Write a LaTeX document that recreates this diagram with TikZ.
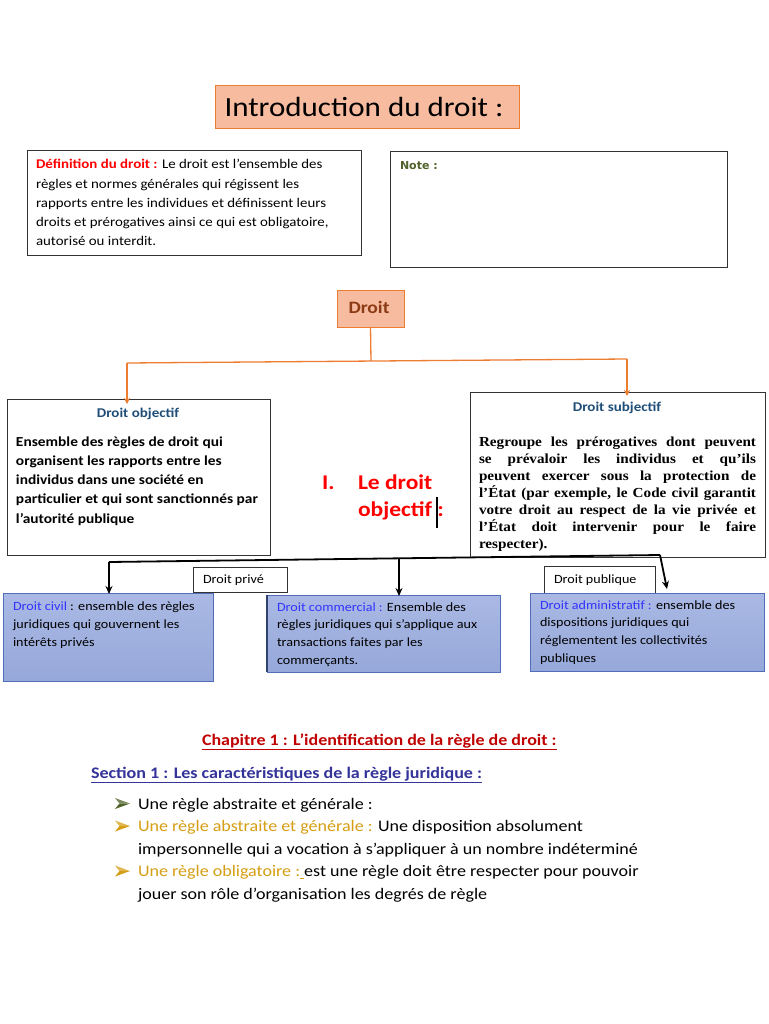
\documentclass[tikz,border=0pt]{standalone}
\usepackage{fontspec}
\setmainfont{Carlito}[FakeStretch=1.12]
\newfontfamily\tnr{Liberation Serif}[FakeStretch=1.1]
\newfontfamily\djv{DejaVu Sans}
\usetikzlibrary{arrows.meta}
\newcommand\nsp{\spaceskip=0pt\xspaceskip=0pt\relax}
\newcommand\bulletarrow[3]{%
  \fill[#3!75!white] (#1,#2-11) -- (#1+15,#2-5.5) -- (#1+4.5,#2-5.5) -- cycle;
  \fill[#3] (#1,#2) -- (#1+15,#2-5.5) -- (#1+4.5,#2-5.5) -- cycle;}
\definecolor{salmon}{RGB}{247,187,160}
\definecolor{orangeln}{RGB}{237,125,49}
\definecolor{brownt}{RGB}{140,60,20}
\definecolor{navyt}{RGB}{31,78,121}
\definecolor{redt}{RGB}{255,0,0}
\definecolor{greent}{RGB}{79,98,40}
\definecolor{bluefillA}{RGB}{170,185,228}
\definecolor{bluefillB}{RGB}{150,168,218}
\definecolor{blueborder}{RGB}{80,110,185}
\definecolor{bluet}{RGB}{51,51,255}
\definecolor{chapt}{RGB}{192,0,0}
\definecolor{sectt}{RGB}{51,51,153}
\definecolor{goldt}{RGB}{214,158,20}
\begin{document}
\begin{tikzpicture}[x=1pt,y=-1pt,
  every node/.style={inner sep=0pt,outer sep=0pt},
  salbox/.style={draw=orangeln,line width=1pt,fill=salmon},
  blkbox/.style={draw=black!80,line width=1pt,fill=white},
  bluebox/.style={draw=blueborder,line width=1pt,top color=bluefillA,bottom color=bluefillB},
  txt/.style={anchor=base west,align=left},
  oline/.style={draw=orangeln,line width=1.3pt},
  oarrow/.style={oline,-{Stealth[length=6pt,width=6pt]}},
  bline/.style={draw=black,line width=1.8pt},
  barrow/.style={bline,-{Stealth[length=8pt,width=7pt]}}
]
\useasboundingbox (0,0) rectangle (768,1024);
\fill[white] (0,0) rectangle (768,1024);

% title
\node[salbox,minimum width=304pt,minimum height=43pt] (title) at (367,107.5) {};
\node[anchor=base,font=\fontsize{27.7}{32}\selectfont] (titletxt) at (364,117) {Introduction du droit :};

% definition
\node[blkbox,minimum width=334pt,minimum height=104pt] (def) at (194,203) {};
\node[txt,text width=330pt,font=\fontsize{13.3}{19.2}\selectfont] (deftxt) at (36,169)
 {\nsp\textcolor{redt}{\bfseries Définition du droit :} Le droit est l’ensemble des\\
 règles et normes générales qui régissent les\\
 rapports entre les individues et définissent leurs\\
 droits et prérogatives ainsi ce qui est obligatoire,\\
 autorisé ou interdit.};

% note
\node[blkbox,minimum width=337pt,minimum height=115pt] (note) at (558.5,209.5) {};
\node[txt,font=\djv\fontsize{11}{14}\selectfont\bfseries,text=greent] (notetxt) at (400,170) {Note :};

% droit
\node[salbox,minimum width=67pt,minimum height=37pt] (droit) at (370.5,308.5) {};
\node[anchor=base,font=\fontsize{17.4}{20}\selectfont\bfseries,text=brownt] (droittxt) at (369,313) {Droit};

% objectif
\node[blkbox,minimum width=263pt,minimum height=156pt] (obj) at (138.5,477) {};
\node[anchor=base,font=\fontsize{13.4}{16}\selectfont\bfseries,text=navyt] (objt) at (138,417) {Droit objectif};
\node[txt,text width=260pt,font=\fontsize{13.75}{19.3}\selectfont\bfseries] (objtxt) at (16,446)
 {\nsp Ensemble des règles de droit qui\\
 organisent les rapports entre les\\
 individus dans une société en\\
 particulier et qui sont sanctionnés par\\
 l’autorité publique};

% subjectif
\node[blkbox,minimum width=295pt,minimum height=165pt] (subj) at (617.5,474.5) {};
\node[anchor=base,font=\fontsize{13.4}{16}\selectfont\bfseries,text=navyt] (subjt) at (617,411) {Droit subjectif};
\node[txt,text width=277pt,font=\tnr\fontsize{13.8}{17}\selectfont\bfseries] (subjtxt) at (479,446)
 {\nsp\makebox[277pt][s]{Regroupe les prérogatives dont peuvent}\\
 \makebox[277pt][s]{se prévaloir les individus et qu’ils}\\
 \makebox[277pt][s]{peuvent exercer sous la protection de}\\
 \makebox[277pt][s]{l’État (par exemple, le Code civil garantit}\\
 \makebox[277pt][s]{votre droit au respect de la vie privée et}\\
 \makebox[277pt][s]{l’État doit intervenir pour le faire}\\
 respecter).};

% I. Le droit objectif
\node[txt,font=\fontsize{21}{27}\selectfont\bfseries,text=redt] (inum) at (322,489) {I.};
\node[txt,text width=100pt,font=\fontsize{21}{27}\selectfont\bfseries,text=redt] (ititle) at (358,489) {\nsp Le droit\\objectif :};
\draw[line width=1.3pt] (437,497) -- (437,528);

% orange connectors
\coordinate (oj) at (371,361);
\coordinate (ol) at (127,363);
\coordinate (or) at (627,359);
\draw[oline] (droit.south) -- (oj);
\draw[oline] (ol) -- (or);
\draw[oarrow] (ol) -- ([yshift=-5pt]ol |- obj.north);
\draw[oarrow] (or) -- ([yshift=-4pt]or |- subj.north);

% small label boxes
\node[blkbox,minimum width=94pt,minimum height=25pt] (prive) at (240,579.5) {};
\node[txt,font=\fontsize{12.6}{14}\selectfont] (privetxt) at (203,583) {Droit privé};
\node[blkbox,minimum width=111pt,minimum height=27pt] (publ) at (599.5,579.5) {};
\node[txt,font=\fontsize{12.6}{14}\selectfont] (publtxt) at (554,583) {Droit publique};

% blue boxes
\node[bluebox,minimum width=210pt,minimum height=88pt] (civil) at (108,637) {};
\node[txt,text width=205pt,font=\fontsize{12.6}{18}\selectfont] (civiltxt) at (13,610)
 {\nsp\textcolor{bluet}{Droit civil} : ensemble des règles\\
 juridiques qui gouvernent les\\
 intérêts privés};
\node[bluebox,minimum width=233pt,minimum height=77pt] (comm) at (383.5,633.5) {};
\draw[line width=1.6pt,blueborder!60!black] (comm.north west) -- (comm.south west);
\node[txt,text width=225pt,font=\fontsize{12.6}{17.8}\selectfont] (commtxt) at (277,611)
 {\nsp\textcolor{bluet}{Droit commercial :} Ensemble des\\
 règles juridiques qui s’applique aux\\
 transactions faites par les\\
 commerçants.};
\node[bluebox,minimum width=234pt,minimum height=78pt] (admin) at (647,632) {};
\node[txt,text width=225pt,font=\fontsize{12.6}{17.8}\selectfont] (admintxt) at (540,609)
 {\nsp\textcolor{bluet}{Droit administratif :} ensemble des\\
 dispositions juridiques qui\\
 réglementent les collectivités\\
 publiques};

% black connectors
\coordinate (bl) at (109,562);
\coordinate (bm) at (399,558.5);
\coordinate (br) at (660,555);
\coordinate (brt) at (667,589);
\draw[bline] (bl) -- (br);
\draw[barrow] (bl) -- ([yshift=-1pt]bl |- civil.north);
\draw[barrow] (bm) -- ([yshift=-1pt]bm |- comm.north);
\draw[barrow] (br) -- (brt);

% chapter and section
\node[txt,font=\fontsize{16.05}{19}\selectfont\bfseries,text=chapt] (chap) at (202,745)
 {\underline{Chapitre 1 : L’identification de la règle de droit :}};
\node[txt,font=\fontsize{16.1}{19}\selectfont\bfseries,text=sectt] (sect) at (91,778)
 {\underline{Section 1 : Les caractéristiques de la règle juridique :}};

% bullets
\bulletarrow{115}{809}{greent}
\bulletarrow{115}{831.5}{goldt}
\bulletarrow{115}{876.5}{goldt}
\node[txt,font=\fontsize{16.1}{22.5}\selectfont] (l1) at (138,809) {Une règle abstraite et générale :};
\node[txt,text width=600pt,font=\fontsize{16.1}{22.5}\selectfont] (l2) at (138,831.5)
 {\nsp\textcolor{goldt}{Une règle abstraite et générale :} Une disposition absolument\\
 impersonnelle qui a vocation à s’appliquer à un nombre indéterminé};
\node[txt,text width=600pt,font=\fontsize{16.1}{22.5}\selectfont] (l3) at (138,876.5)
 {\nsp\textcolor{goldt}{Une règle obligatoire :}\textcolor{goldt}{\underline{\ }}est une règle doit être respecter pour pouvoir\\
 jouer son rôle d’organisation les degrés de règle};
\end{tikzpicture}
\end{document}
